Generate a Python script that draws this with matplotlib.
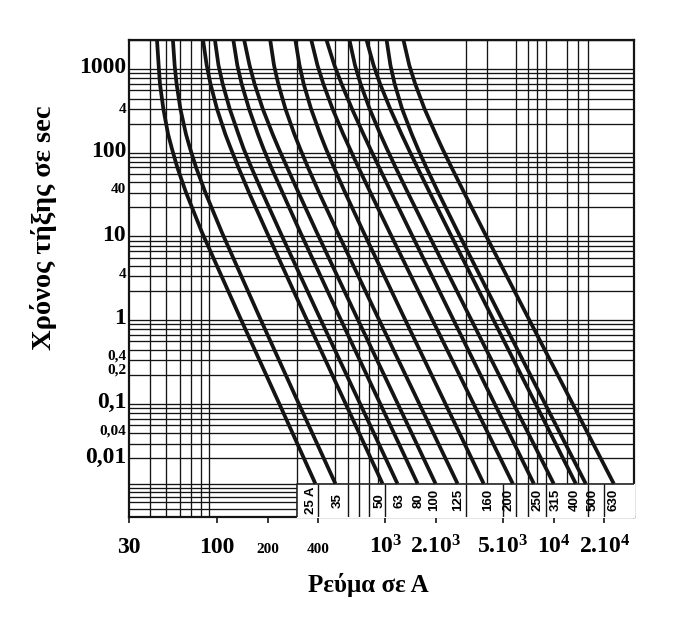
import matplotlib
matplotlib.use("Agg")
import matplotlib.pyplot as plt
from matplotlib.ticker import FixedLocator

plt.rcParams['font.family'] = ['Liberation Serif', 'DejaVu Serif']
plt.rcParams['font.weight'] = 'bold'
plt.rcParams['mathtext.fontset'] = 'custom'
plt.rcParams['mathtext.rm'] = 'Liberation Serif:bold'
plt.rcParams['mathtext.bf'] = 'Liberation Serif:bold'
plt.rcParams['mathtext.default'] = 'bf'

TIMES = [2000, 1000, 600, 300, 150, 100, 60, 30, 10, 1, 0.1, 0.01]

# fuse ratings and the current (A) of each curve at the times above
FUSES = ["25 A", "35", "50", "63", "80", "100", "125",
         "160", "200", "250", "315", "400", "500", "630"]
I_25 = [44, 45, 45.8, 48, 51.2, 54, 58.1, 65.5, 81.5, 136, 229, 384]
I_35 = [54.7, 56, 57.5, 60.6, 65.4, 69.3, 75.1, 85.3, 107, 178, 299, 505]
I_50 = [82.6, 86.8, 91.4, 100, 112, 121, 134, 155, 198, 334, 567, 962]
I_63 = [97.2, 102, 108, 119, 134, 144, 160, 186, 238, 404, 691, 1180]
I_80 = [125, 132, 140, 155, 175, 189, 210, 245, 313, 532, 910, 1554]
I_100 = [145, 156, 167, 187, 214, 233, 261, 305, 392, 672, 1156, 1987]
I_125 = [207, 218, 231, 255, 288, 312, 347, 404, 521, 897, 1552, 2685]
I_160 = [292, 309, 327, 362, 410, 444, 495, 577, 744, 1282, 2218, 3838]
I_200 = [363, 395, 428, 486, 562, 616, 692, 816, 1062, 1859, 3259, 5715]
I_250 = [447, 498, 549, 634, 741, 814, 919, 1085, 1415, 2478, 4346, 7620]
I_315 = [612, 660, 712, 807, 933, 1022, 1151, 1360, 1782, 3162, 5623, 10000]
I_400 = [773, 851, 930, 1069, 1248, 1372, 1550, 1836, 2409, 4278, 7608, 13530]
I_500 = [1017, 1072, 1135, 1258, 1435, 1562, 1752, 2065, 2706, 4830, 8652, 15500]
I_630 = [1281, 1387, 1503, 1710, 1991, 2185, 2474, 2938, 3877, 6984, 12613, 22750]
CURVES = [I_25, I_35, I_50, I_63, I_80, I_100, I_125,
          I_160, I_200, I_250, I_315, I_400, I_500, I_630]

# where each rating is printed in the strip under the curves (A)
LABEL_AT = [363, 518, 922, 1214, 1575, 1962, 2722,
            4054, 5405, 8040, 10290, 13340, 17060, 22770]
# vertical separators inside the rating strip (A)
STRIP_RULES = [400, 600, 700, 800, 1000, 3000, 5000, 6000,
               7000, 9000, 16000, 20000]

# axis tick labels as printed on the sheet
X_TICKS = [30, 100, 200, 400, 1000, 2000, 5000, 10000, 20000]
X_LABELS = ["30", "100", "200", "400", r"$10^3$", r"$2.10^3$",
            r"$5.10^3$", r"$10^4$", r"$2.10^4$"]
X_BIG = [True, True, False, False, True, True, True, True, True]

Y_TICKS = [1000, 308, 100, 34, 10, 3.3, 1, 0.345, 0.241, 0.1, 0.044, 0.022]
Y_LABELS = ["1000", "4", "100", "40", "10", "4", "1",
            "0,4", "0,2", "0,1", "0,04", "0,01"]
Y_BIG = [True, False, True, False, True, False, True,
         False, False, True, False, True]

# extra vertical rulings between 10^4 and 2.10^4
X_EXTRA_GRID = [12000, 14000, 16000]

XMIN, XMAX = 30, 30000
YMIN, YMAX = 0.004, 2000
STRIP_LEFT, STRIP_TOP = 300, 0.01
INK = '#141414'


def main():
    fig = plt.figure(figsize=(6.8, 6.29), dpi=100)
    ax = fig.add_axes([129 / 680, 1 - 517 / 629, 505 / 680, 477 / 629])
    ax.set_xscale('log')
    ax.set_yscale('log')
    ax.set_xlim(XMIN, XMAX)
    ax.set_ylim(YMIN, YMAX)

    # log ruling: every 1..9 multiple of each decade
    x_grid = [m * 10 ** k for k in range(1, 5) for m in range(1, 10)]
    x_grid = [v for v in x_grid if XMIN <= v <= XMAX] + X_EXTRA_GRID
    y_grid = [m * 10.0 ** k for k in range(-3, 4) for m in range(1, 10)]
    y_grid = [v for v in y_grid if YMIN <= v <= YMAX]
    ax.xaxis.set_minor_locator(FixedLocator(x_grid))
    ax.yaxis.set_minor_locator(FixedLocator(y_grid))
    ax.grid(False, which='major')
    ax.grid(True, which='minor', color=INK, linewidth=0.95)
    ax.tick_params(which='minor', length=0, labelbottom=False, labelleft=False)

    ax.xaxis.set_major_locator(FixedLocator(X_TICKS))
    ax.set_xticklabels(X_LABELS)
    ax.yaxis.set_major_locator(FixedLocator(Y_TICKS))
    ax.set_yticklabels(Y_LABELS)
    ax.tick_params(axis='x', which='major', length=4, width=1.2,
                   color=INK, pad=22)
    ax.tick_params(axis='y', which='major', length=0, pad=2)
    for lab, big in zip(ax.get_xticklabels(), X_BIG):
        lab.set_fontsize(17 if big else 11)
        lab.set_verticalalignment('baseline')
    for lab, big in zip(ax.get_yticklabels(), Y_BIG):
        lab.set_fontsize(17 if big else 11)

    for spine in ax.spines.values():
        spine.set_linewidth(1.6)
        spine.set_color(INK)

    # melting curves
    for currents in CURVES:
        ax.plot(currents, TIMES, color=INK, linewidth=2.7,
                solid_capstyle='butt', solid_joinstyle='round', zorder=4)

    # rating strip under the curves
    ax.fill_between([STRIP_LEFT, XMAX], YMIN, STRIP_TOP, color='white', zorder=3)
    ax.plot([STRIP_LEFT, STRIP_LEFT, XMAX], [YMIN, STRIP_TOP, STRIP_TOP],
            color=INK, linewidth=1.1, zorder=3)
    ax.vlines(STRIP_RULES, YMIN, STRIP_TOP, color=INK, linewidth=1.0, zorder=3)
    y_mid = (YMIN * STRIP_TOP) ** 0.5
    for name, x in zip(FUSES, LABEL_AT):
        ax.text(x, y_mid, name, rotation=90, ha='center', va='center',
                fontsize=9.5, fontweight='bold',
                family=['Liberation Sans', 'DejaVu Sans'], zorder=5)

    ax.set_ylabel("Χρόνος τήξης σε sec", fontsize=20.5, fontweight='bold')
    ax.yaxis.set_label_coords(-0.143, 0.606)
    ax.set_xlabel("Ρεύμα σε Α", fontsize=18, fontweight='bold')
    ax.xaxis.set_label_coords(0.473, -0.117)

    fig.savefig('out.png', dpi=100)


if __name__ == '__main__':
    main()
